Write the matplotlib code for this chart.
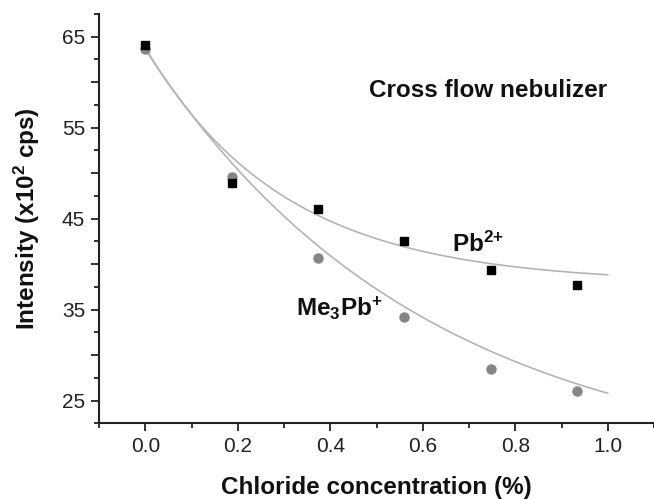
import matplotlib
matplotlib.use("Agg")
import matplotlib.pyplot as plt
import numpy as np
from matplotlib.ticker import MultipleLocator, FixedLocator

plt.rcParams['font.family'] = ['Liberation Sans', 'DejaVu Sans']
plt.rcParams['mathtext.default'] = 'regular'

# data
chloride = [0.0, 0.187, 0.373, 0.560, 0.747, 0.933]
pb2 = [64.1, 48.9, 46.1, 42.5, 39.4, 37.7]
me3pb = [63.6, 49.6, 40.7, 34.2, 28.5, 26.1]

# exponential decay fits y = A + B*exp(-x/t), parameters
pb2_fit = (37.9, 25.9, 0.30)
me3pb_fit = (17.0, 46.6, 0.60)

y_major = [25, 30, 35, 40, 45, 50, 55, 60, 65]
y_labels = ['25', '', '35', '', '45', '', '55', '', '65']
x_major = [0.0, 0.2, 0.4, 0.6, 0.8, 1.0]
x_labels = ['0.0', '0.2', '0.4', '0.6', '0.8', '1.0']


def decay(x, p):
    a, b, t = p
    return a + b * np.exp(-x / t)


fig = plt.figure(figsize=(6.54, 4.99), dpi=100)
ax = fig.add_axes([0.1514, 0.1517, 0.8486, 0.8203])

xx = np.linspace(0, 1.0, 200)
fit_color = '#b4b4b4'
ax.plot(xx, decay(xx, pb2_fit), color=fit_color, lw=1.2, zorder=1)
ax.plot(xx, decay(xx, me3pb_fit), color=fit_color, lw=1.2, zorder=1)

ax.plot(chloride, pb2, 's', color='black', markersize=6, zorder=3)
ax.plot(chloride, me3pb, 'o', color='#858585', markersize=6.5, zorder=2)

ax.set_xlim(-0.1, 1.1)
ax.set_ylim(22.5, 67.5)

ax.xaxis.set_major_locator(FixedLocator(x_major))
ax.set_xticklabels(x_labels)
ax.xaxis.set_minor_locator(MultipleLocator(0.1))
ax.yaxis.set_major_locator(FixedLocator(y_major))
ax.set_yticklabels(y_labels)
ax.yaxis.set_minor_locator(MultipleLocator(2.5))

for s in ['top', 'right']:
    ax.spines[s].set_visible(False)
for s in ['left', 'bottom']:
    ax.spines[s].set_linewidth(1.5)
    ax.spines[s].set_color('#222222')

ax.tick_params(which='major', length=6, width=1.3, labelsize=15,
               colors='#222222', pad=4)
ax.tick_params(which='minor', length=3.5, width=1.3, colors='#222222')

ax.set_xlabel('Chloride concentration (%)', fontsize=17.5, fontweight='bold',
              color='#111111', labelpad=14)
ax.set_ylabel('Intensity (x10$^2$ cps)', fontsize=17.5, fontweight='bold',
              color='#111111', labelpad=14)

ax.text(0.484, 59.1, 'Cross flow nebulizer', fontsize=17.5, fontweight='bold',
        color='#111111', va='center', ha='left')
ax.text(0.663, 41.3, 'Pb$^{2{+}}$', fontsize=17.5, fontweight='bold',
        color='#111111', va='baseline', ha='left')
ax.text(0.326, 34.35, 'Me$_3$Pb$^{+}$', fontsize=17.5, fontweight='bold',
        color='#111111', va='baseline', ha='left')

fig.savefig('out.png', dpi=100)
